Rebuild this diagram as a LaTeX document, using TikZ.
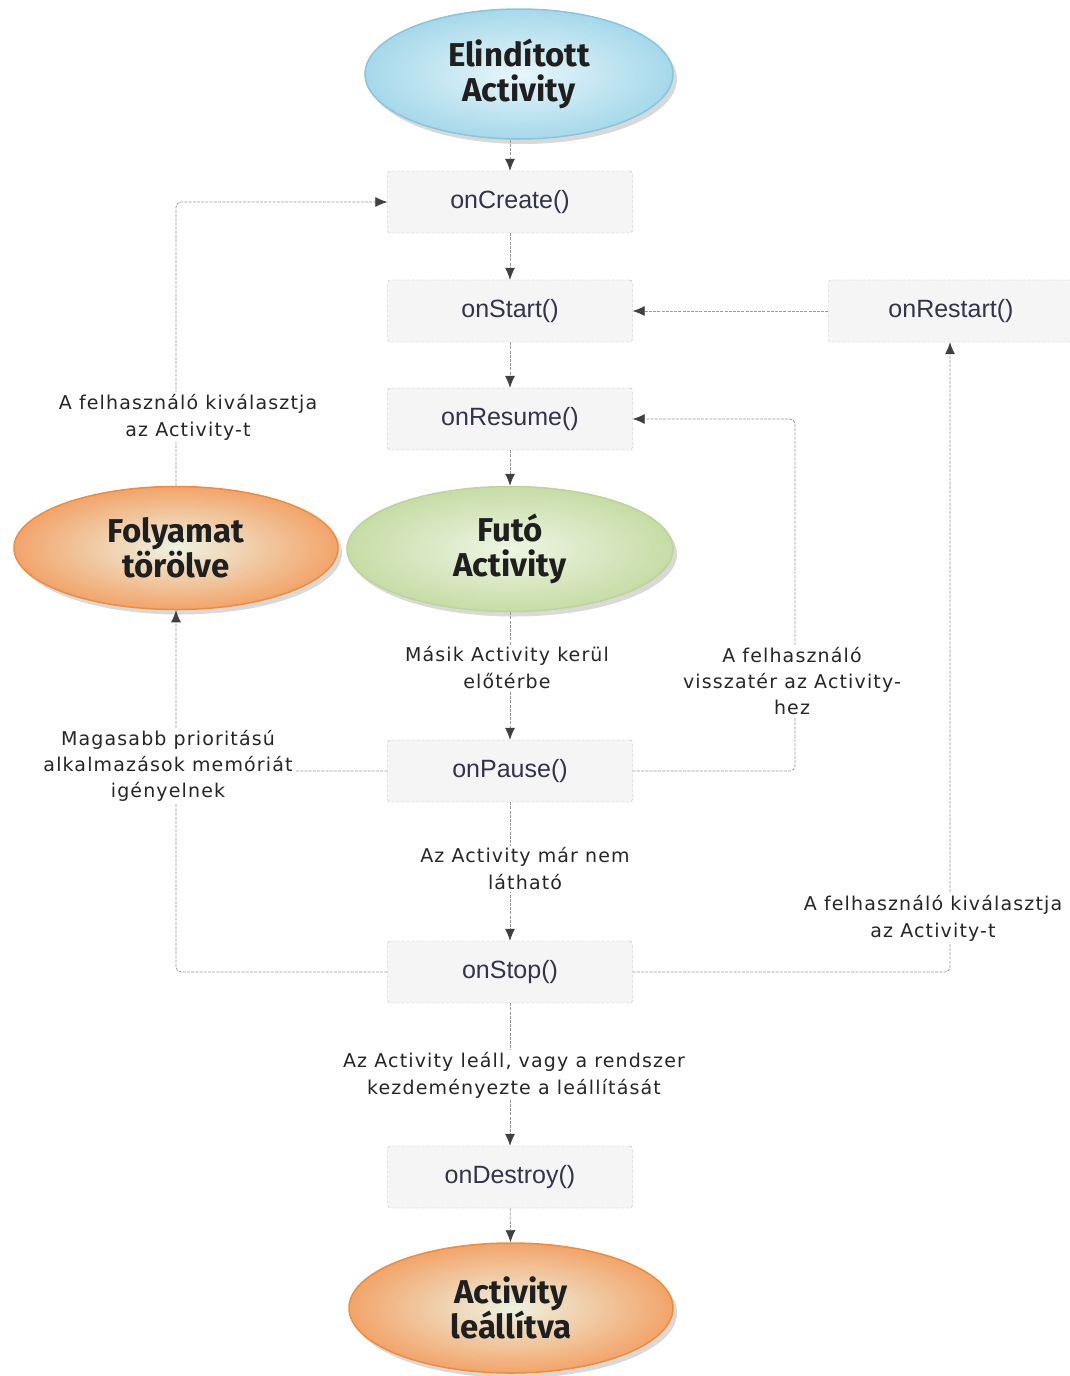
\documentclass[tikz,border=0pt]{standalone}
\usepackage{fontspec}
\setmainfont{DejaVu Sans}
\newfontfamily\labfont[LetterSpace=6]{DejaVu Sans}
\newfontfamily\boxfont{Liberation Sans}
\newfontfamily\ellfont{Fira Sans}
\usetikzlibrary{shapes.geometric,shadows,arrows.meta}
\definecolor{boxtext}{HTML}{33334A}
\definecolor{linegray}{HTML}{9A9A9A}
\definecolor{tipgray}{HTML}{404040}
\definecolor{bluein}{HTML}{E8F6FA}
\definecolor{blueout}{HTML}{A6D8EA}
\definecolor{blueline}{HTML}{86C6DE}
\definecolor{greenin}{HTML}{EEF5E4}
\definecolor{greenout}{HTML}{C6DCA6}
\definecolor{greenline}{HTML}{BCD59A}
\definecolor{orin}{HTML}{EEF2E2}
\definecolor{orout}{HTML}{F2A46A}
\definecolor{orline}{HTML}{F08C3C}
\tikzset{
  method/.style={draw=linegray!70, densely dashed, fill=black!4, rounded corners=3pt,
    minimum width=245pt, minimum height=62pt, font=\boxfont\fontsize{25}{27}\selectfont, text=boxtext},
  state/.style={ellipse, align=center, font=\ellfont\bfseries\fontsize{33}{35}\selectfont, text=black!88,
    line width=1.5pt, drop shadow={opacity=0.3, shadow xshift=4pt, shadow yshift=-5pt}},
  bluest/.style={state, draw=blueline, inner color=bluein, outer color=blueout},
  greenst/.style={state, draw=greenline, inner color=greenin, outer color=greenout},
  orangest/.style={state, draw=orline, inner color=orin, outer color=orout},
  lab/.style={fill=white, align=center, font=\labfont\fontsize{19}{27}\selectfont, text=black!85, inner sep=2pt},
  conn/.style={draw=linegray, line width=0.8pt, dash pattern=on 3pt off 1.2pt, rounded corners=5pt,
    -{Latex[length=12pt,width=10pt,color=tipgray]}},
  plain/.style={draw=linegray, line width=0.8pt, dash pattern=on 3pt off 1.2pt, rounded corners=5pt}
}
\begin{document}
\begin{tikzpicture}[x=1pt,y=-1pt]
\useasboundingbox (0,0) rectangle (1070,1376);
% states
\node[bluest, minimum width=308pt, minimum height=130pt] (start) at (519,74) {Elindított\\Activity};
\node[greenst, minimum width=326pt, minimum height=125pt] (run) at (510,549) {Futó\\Activity};
\node[orangest, minimum width=324pt, minimum height=123pt] (killed) at (176,548) {Folyamat\\törölve};
\node[orangest, minimum width=324pt, minimum height=130pt] (shut) at (511,1308) {Activity\\leállítva};
% methods
\node[method] (create) at (510,202) {onCreate()};
\node[method] (startm) at (510,311) {onStart()};
\node[method] (restart) at (951,311) {onRestart()};
\node[method] (resume) at (510,419) {onResume()};
\node[method] (pause) at (510,771) {onPause()};
\node[method] (stop) at (510,972) {onStop()};
\node[method] (destroy) at (510,1177) {onDestroy()};
% corner coordinates
\coordinate (pr) at (795,771);
\coordinate (sr) at (950,972);
\coordinate (kl) at (176,771);
% connectors
\draw[conn] (create.north |- start.south) -- (create);
\draw[conn] (create) -- (startm);
\draw[conn] (startm) -- (resume);
\draw[conn] (resume) -- (run);
\draw[conn] (run) -- (pause);
\draw[conn] (pause) -- (stop);
\draw[conn] (stop) -- (destroy);
\draw[conn] (destroy) -- (shut);
\draw[conn] (restart) -- (startm);
\draw[conn] (pause.east) -- (pr) |- (resume.east);
\draw[conn] (stop.east) -- (sr) -- (sr |- restart.south);
\draw[conn] (pause.west) -| (killed.south);
\draw[plain] (stop.west) -| (kl);
\draw[conn] (killed.north) |- (create.west);
% labels
\node[lab] (l1) at (188,417) {A felhasználó kiválasztja\\az Activity-t};
\node[lab] (l2) at (507,668) {Másik Activity kerül\\előtérbe};
\node[lab, font=\labfont\fontsize{19}{26}\selectfont] (l3) at (792,681) {A felhasználó\\visszatér az Activity-\\hez};
\node[lab, font=\labfont\fontsize{19}{26}\selectfont] (l4) at (168,766) {Magasabb prioritású\\alkalmazások memóriát\\igényelnek};
\node[lab] (l5) at (525,869) {Az Activity már nem\\látható};
\node[lab] (l6) at (933,918) {A felhasználó kiválasztja\\az Activity-t};
\node[lab] (l7) at (514,1075) {Az Activity leáll, vagy a rendszer\\kezdeményezte a leállítását};
\end{tikzpicture}
\end{document}
